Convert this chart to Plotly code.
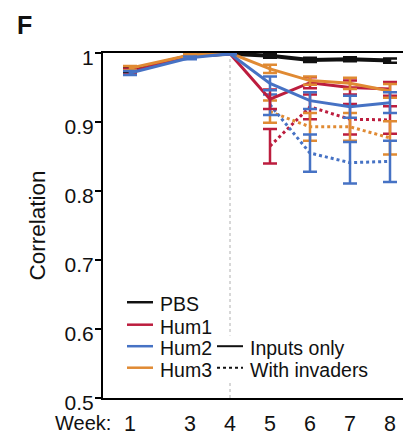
import plotly.graph_objects as go

# ---- data ----
week_labels = ["1", "3", "4", "5", "6", "7", "8"]
week_pos = [1.5, 3, 4, 5, 6, 7, 8]
inv_pos = [5, 6, 7, 8]

pbs = [0.975, 0.996, 0.999, 0.996, 0.990, 0.991, 0.989]
pbs_err = [0.003, 0.002, 0.001, 0.003, 0.003, 0.003, 0.003]

hum1_in = [0.973, 0.995, 0.999, 0.933, 0.957, 0.950, 0.948]
hum1_in_err = [0.004, 0.002, 0.001, 0.014, 0.008, 0.010, 0.010]
hum2_in = [0.971, 0.993, 0.999, 0.956, 0.931, 0.922, 0.928]
hum2_in_err = [0.003, 0.002, 0.001, 0.010, 0.012, 0.016, 0.015]
hum3_in = [0.978, 0.997, 1.0, 0.977, 0.960, 0.956, 0.945]
hum3_in_err = [0.003, 0.002, 0.001, 0.006, 0.006, 0.008, 0.010]

hum1_inv = [0.865, 0.922, 0.904, 0.903]
hum1_inv_err = [0.025, 0.018, 0.022, 0.020]
hum2_inv = [0.925, 0.855, 0.841, 0.843]
hum2_inv_err = [0.015, 0.027, 0.030, 0.030]
hum3_inv = [0.915, 0.893, 0.893, 0.877]
hum3_inv_err = [0.016, 0.020, 0.020, 0.024]

y_ticks = [0.5, 0.6, 0.7, 0.8, 0.9, 1.0]
y_ticktext = ["0.5", "0.6", "0.7", "0.8", "0.9", "1"]

RED = "#BC1D3E"
BLUE = "#4672C4"
ORANGE = "#E08A33"
BLACK = "#111111"
FONT = "Arial, Liberation Sans, sans-serif"

fig = go.Figure()


def add(x, y, err, color, dash, width=3):
    fig.add_trace(go.Scatter(
        x=x, y=y, mode="lines",
        line=dict(color=color, width=width, dash=dash),
        error_y=dict(type="data", array=err, color=color, thickness=2.5, width=7),
        showlegend=False, hoverinfo="skip"))


add(week_pos, pbs, pbs_err, BLACK, "solid", 4)
add(inv_pos, hum1_inv, hum1_inv_err, RED, "dot")
add(inv_pos, hum3_inv, hum3_inv_err, ORANGE, "dot")
add(inv_pos, hum2_inv, hum2_inv_err, BLUE, "dot")
add(week_pos, hum1_in, hum1_in_err, RED, "solid")
add(week_pos, hum3_in, hum3_in_err, ORANGE, "solid")
add(week_pos, hum2_in, hum2_in_err, BLUE, "solid")

W, H = 403, 436
L, T, B = 103, 53, 406
PW, PH = W - L, B - T


def px(xp):
    return (xp - L) / PW


def py(yp):
    return (B - yp) / PH


shapes = [
    dict(type="line", xref="x", yref="paper", x0=4, x1=4, y0=0, y1=1,
         line=dict(color="#b0b0b0", width=1, dash="dot"), layer="below"),
    dict(type="rect", xref="paper", yref="paper", x0=px(214), x1=px(246),
         y0=py(390), y1=py(342),
         fillcolor="white", line=dict(width=0), layer="above"),
]

annotations = []
legend_rows = [("PBS", BLACK, 308), ("Hum1", RED, 331), ("Hum2", BLUE, 353), ("Hum3", ORANGE, 375)]
TXT_DY = 2
for name, col, yy in legend_rows:
    shapes.append(dict(type="line", xref="paper", yref="paper",
                       x0=px(127), x1=px(153), y0=py(yy), y1=py(yy),
                       line=dict(color=col, width=2.5), layer="above"))
    annotations.append(dict(text=name, xref="paper", yref="paper",
                            x=px(158), y=py(yy + TXT_DY),
                            xanchor="left", yanchor="middle", showarrow=False,
                            font=dict(family=FONT, size=19.5, color="#111")))

for name, dash, yy in [("Inputs only", "solid", 353), ("With invaders", "dot", 375)]:
    shapes.append(dict(type="line", xref="paper", yref="paper",
                       x0=px(217), x1=px(243), y0=py(yy), y1=py(yy),
                       line=dict(color=BLACK, width=2, dash=dash), layer="above"))
    annotations.append(dict(text=name, xref="paper", yref="paper",
                            x=px(248), y=py(yy + TXT_DY),
                            xanchor="left", yanchor="middle", showarrow=False,
                            font=dict(family=FONT, size=19.5, color="#111")))

annotations.append(dict(text="Week:", xref="paper", yref="paper",
                        x=px(54), y=py(432), borderpad=0,
                        xanchor="left", yanchor="middle", showarrow=False,
                        font=dict(family=FONT, size=20, color="#111")))
annotations.append(dict(text="<b>F</b>", xref="paper", yref="paper",
                        x=px(15), y=py(24),
                        xanchor="left", yanchor="middle", showarrow=False,
                        font=dict(family=FONT, size=25, color="#111")))

fig.update_layout(
    width=W, height=H,
    margin=dict(l=L, r=0, t=T, b=H - B),
    paper_bgcolor="white", plot_bgcolor="white",
    font=dict(family=FONT, size=22, color="#111"),
    shapes=shapes, annotations=annotations,
    xaxis=dict(range=[0.825, 8.325], tickvals=week_pos, ticktext=week_labels,
               showline=True, linecolor="black", linewidth=2, mirror=True,
               ticks="", showgrid=False, zeroline=False, ticklabelstandoff=5,
               tickfont=dict(size=21.5)),
    yaxis=dict(range=[0.5, 1.0], tickvals=y_ticks, ticktext=y_ticktext,
               showline=True, linecolor="black", linewidth=2,
               ticks="outside", ticklen=6, tickwidth=1.5, tickcolor="black",
               ticklabelstandoff=-3, ticklabelshift=5,
               showgrid=False, zeroline=False, tickfont=dict(size=21),
               title=dict(text="Correlation", font=dict(size=22.5), standoff=13)),
)

fig.write_html("out.html")
